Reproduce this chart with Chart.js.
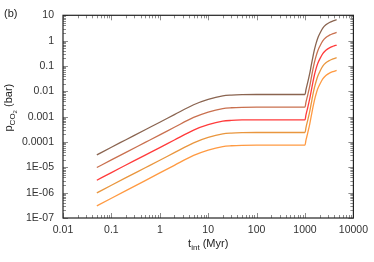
<!DOCTYPE html>
<html>
<head>
<meta charset="utf-8">
<script src="https://cdn.jsdelivr.net/npm/chart.js"></script>
<style>
html,body{margin:0;padding:0;background:#fff;}
#wrap{width:374px;height:262px;}
</style>
</head>
<body>
<div id="wrap"><canvas id="pco2Chart" width="374" height="262"></canvas></div>
<script>
// time after formation (Myr)
const tInt = [0.05, 0.1, 0.2, 0.5, 1, 2, 5, 10, 20, 30, 50, 100, 200, 500, 1000, 1050, 1140, 1250, 1340, 1450, 1570, 1700, 1840, 2050, 2330, 2700, 3200, 3800, 4500];

// pCO2 (bar), one array per curve, top to bottom
const pBrown  = [3.1e-5, 6.2e-5, 1.23e-4, 3.05e-4, 6.0e-4, 1.2e-3, 2.95e-3, 4.8e-3, 6.6e-3, 7.1e-3, 7.4e-3, 7.5e-3, 7.5e-3, 7.5e-3, 7.5e-3, 0.012, 0.023, 0.05, 0.1, 0.22, 0.45, 0.8, 1.28, 2.0, 3.1, 4.2, 5.2, 6.0, 6.7];
const pSienna = [9.8e-6, 1.96e-5, 3.9e-5, 9.6e-5, 1.9e-4, 3.8e-4, 9.3e-4, 1.52e-3, 2.09e-3, 2.25e-3, 2.34e-3, 2.37e-3, 2.37e-3, 2.37e-3, 2.37e-3, 3.8e-3, 7.3e-3, 0.0158, 0.0316, 0.07, 0.142, 0.25, 0.40, 0.63, 0.98, 1.33, 1.64, 1.9, 2.12];
const pRed    = [3.1e-6, 6.2e-6, 1.23e-5, 3.05e-5, 6.0e-5, 1.2e-4, 2.95e-4, 4.8e-4, 6.6e-4, 7.1e-4, 7.4e-4, 7.5e-4, 7.5e-4, 7.5e-4, 7.5e-4, 1.2e-3, 2.3e-3, 5.0e-3, 0.01, 0.022, 0.045, 0.08, 0.128, 0.2, 0.31, 0.42, 0.52, 0.6, 0.67];
const pOrange = [9.8e-7, 1.96e-6, 3.9e-6, 9.6e-6, 1.9e-5, 3.8e-5, 9.3e-5, 1.52e-4, 2.09e-4, 2.25e-4, 2.34e-4, 2.37e-4, 2.37e-4, 2.37e-4, 2.37e-4, 3.8e-4, 7.3e-4, 1.58e-3, 3.16e-3, 7.0e-3, 0.0142, 0.025, 0.040, 0.063, 0.098, 0.133, 0.164, 0.19, 0.212];
const pLight  = [3.0e-7, 6.0e-7, 1.2e-6, 3.0e-6, 6.0e-6, 1.2e-5, 2.95e-5, 4.8e-5, 6.6e-5, 7.1e-5, 7.4e-5, 7.5e-5, 7.5e-5, 7.5e-5, 7.5e-5, 1.2e-4, 2.3e-4, 5.0e-4, 1.0e-3, 2.2e-3, 4.5e-3, 8.0e-3, 0.0128, 0.02, 0.031, 0.042, 0.052, 0.06, 0.067];

const seriesList = [pBrown, pSienna, pRed, pOrange, pLight];
const seriesColors = ["#8a6450", "#c9704f", "#ff3b3b", "#e9963e", "#ff9a42"];

// axis ticks
const xTickValues = [0.01, 0.1, 1, 10, 100, 1000, 10000];
const xTickLabels = ["0.01", "0.1", "1", "10", "100", "1000", "10000"];
const yTickValues = [10, 1, 0.1, 0.01, 0.001, 0.0001, 1e-5, 1e-6, 1e-7];
const yTickLabels = ["10", "1", "0.1", "0.01", "0.001", "0.0001", "1E-05", "1E-06", "1E-07"];

const FONT = "'Liberation Sans', Arial, sans-serif";

const frameAndTicks = {
  id: "frameAndTicks",
  afterDraw(chart){
    const ctx = chart.ctx;
    const a = chart.chartArea;
    const xs = chart.scales.x, ys = chart.scales.y;
    ctx.save();

    // minor / major tick marks pointing inward on all four sides
    ctx.strokeStyle = "#8c8c8c";
    ctx.lineWidth = 1;
    ctx.beginPath();
    for (let e = -2; e <= 4; e++){
      for (let m = 1; m <= 9; m++){
        const v = m * Math.pow(10, e);
        if (v > 10000) break;
        const px = Math.round(xs.getPixelForValue(v)) + 0.5;
        const len = m === 1 ? 5 : 3;
        ctx.moveTo(px, a.bottom); ctx.lineTo(px, a.bottom - len);
        ctx.moveTo(px, a.top); ctx.lineTo(px, a.top + len);
      }
    }
    for (let e = -7; e <= 1; e++){
      for (let m = 1; m <= 9; m++){
        const v = m * Math.pow(10, e);
        if (v > 10) break;
        const py = Math.round(ys.getPixelForValue(v)) + 0.5;
        const len = m === 1 ? 5 : 3;
        ctx.moveTo(a.left, py); ctx.lineTo(a.left + len, py);
        ctx.moveTo(a.right, py); ctx.lineTo(a.right - len, py);
      }
    }
    ctx.stroke();

    // frame
    ctx.strokeStyle = "#222";
    ctx.lineWidth = 1.2;
    ctx.strokeRect(a.left, a.top, a.right - a.left, a.bottom - a.top);

    // panel label
    ctx.fillStyle = "#222";
    ctx.font = "11px " + FONT;
    ctx.textAlign = "left";
    ctx.textBaseline = "middle";
    ctx.fillText("(b)", 4, 14);

    // x title: t_int (Myr)
    const cx = (a.left + a.right) / 2;
    ctx.textBaseline = "alphabetic";
    ctx.font = "11px " + FONT;
    const wT = ctx.measureText("t").width;
    ctx.font = "8px " + FONT;
    const wInt = ctx.measureText("int").width;
    ctx.font = "11px " + FONT;
    const wRest = ctx.measureText(" (Myr)").width;
    let x0 = cx - (wT + wInt + wRest) / 2;
    const by = 247;
    ctx.fillText("t", x0, by);
    ctx.font = "8px " + FONT;
    ctx.fillText("int", x0 + wT, by + 3);
    ctx.font = "11px " + FONT;
    ctx.fillText(" (Myr)", x0 + wT + wInt, by);

    // y title: p_CO2 (bar), rotated
    ctx.translate(12, (a.top + a.bottom) / 2 - 9);
    ctx.rotate(-Math.PI / 2);
    ctx.font = "11px " + FONT;
    const wP = ctx.measureText("p").width;
    ctx.font = "8px " + FONT;
    const wCO = ctx.measureText("CO").width;
    ctx.font = "6px " + FONT;
    const w2 = ctx.measureText("2").width;
    ctx.font = "11px " + FONT;
    const wBar = ctx.measureText(" (bar)").width;
    let y0 = -(wP + wCO + w2 + wBar) / 2;
    ctx.fillText("p", y0, 0);
    ctx.font = "8px " + FONT;
    ctx.fillText("CO", y0 + wP, 3);
    ctx.font = "6px " + FONT;
    ctx.fillText("2", y0 + wP + wCO, 5);
    ctx.font = "11px " + FONT;
    ctx.fillText(" (bar)", y0 + wP + wCO + w2, 0);

    ctx.restore();
  }
};

const datasets = seriesList.map((vals, i) => ({
  data: tInt.map((t, k) => ({x: t, y: vals[k]})),
  borderColor: seriesColors[i],
  borderWidth: 1.3,
  pointRadius: 0,
  fill: false,
  cubicInterpolationMode: "monotone"
}));

new Chart(document.getElementById("pco2Chart"), {
  type: "line",
  data: {datasets: datasets},
  options: {
    responsive: false,
    animation: false,
    layout: {padding: {left: 0, top: 12, right: 19, bottom: 0}},
    plugins: {legend: {display: false}, tooltip: {enabled: false}},
    scales: {
      x: {
        type: "logarithmic",
        min: 0.01,
        max: 10000,
        grid: {display: false, drawTicks: false},
        border: {display: false},
        afterBuildTicks: s => { s.ticks = xTickValues.map(v => ({value: v})); },
        afterFit: s => { s.height = 44; },
        ticks: {
          autoSkip: false,
          maxRotation: 0,
          padding: 6,
          color: "#333",
          font: {family: FONT, size: 10.5},
          callback: (v, i) => xTickLabels[i]
        }
      },
      y: {
        type: "logarithmic",
        min: 1e-7,
        max: 10,
        grid: {display: false, drawTicks: false},
        border: {display: false},
        afterBuildTicks: s => { s.ticks = yTickValues.slice().reverse().map(v => ({value: v})); },
        afterFit: s => { s.width = 63; },
        ticks: {
          autoSkip: false,
          padding: 9,
          color: "#333",
          font: {family: FONT, size: 10.5},
          callback: (v, i) => yTickLabels[yTickLabels.length - 1 - i]
        }
      }
    }
  },
  plugins: [frameAndTicks]
});
</script>
</body>
</html>
